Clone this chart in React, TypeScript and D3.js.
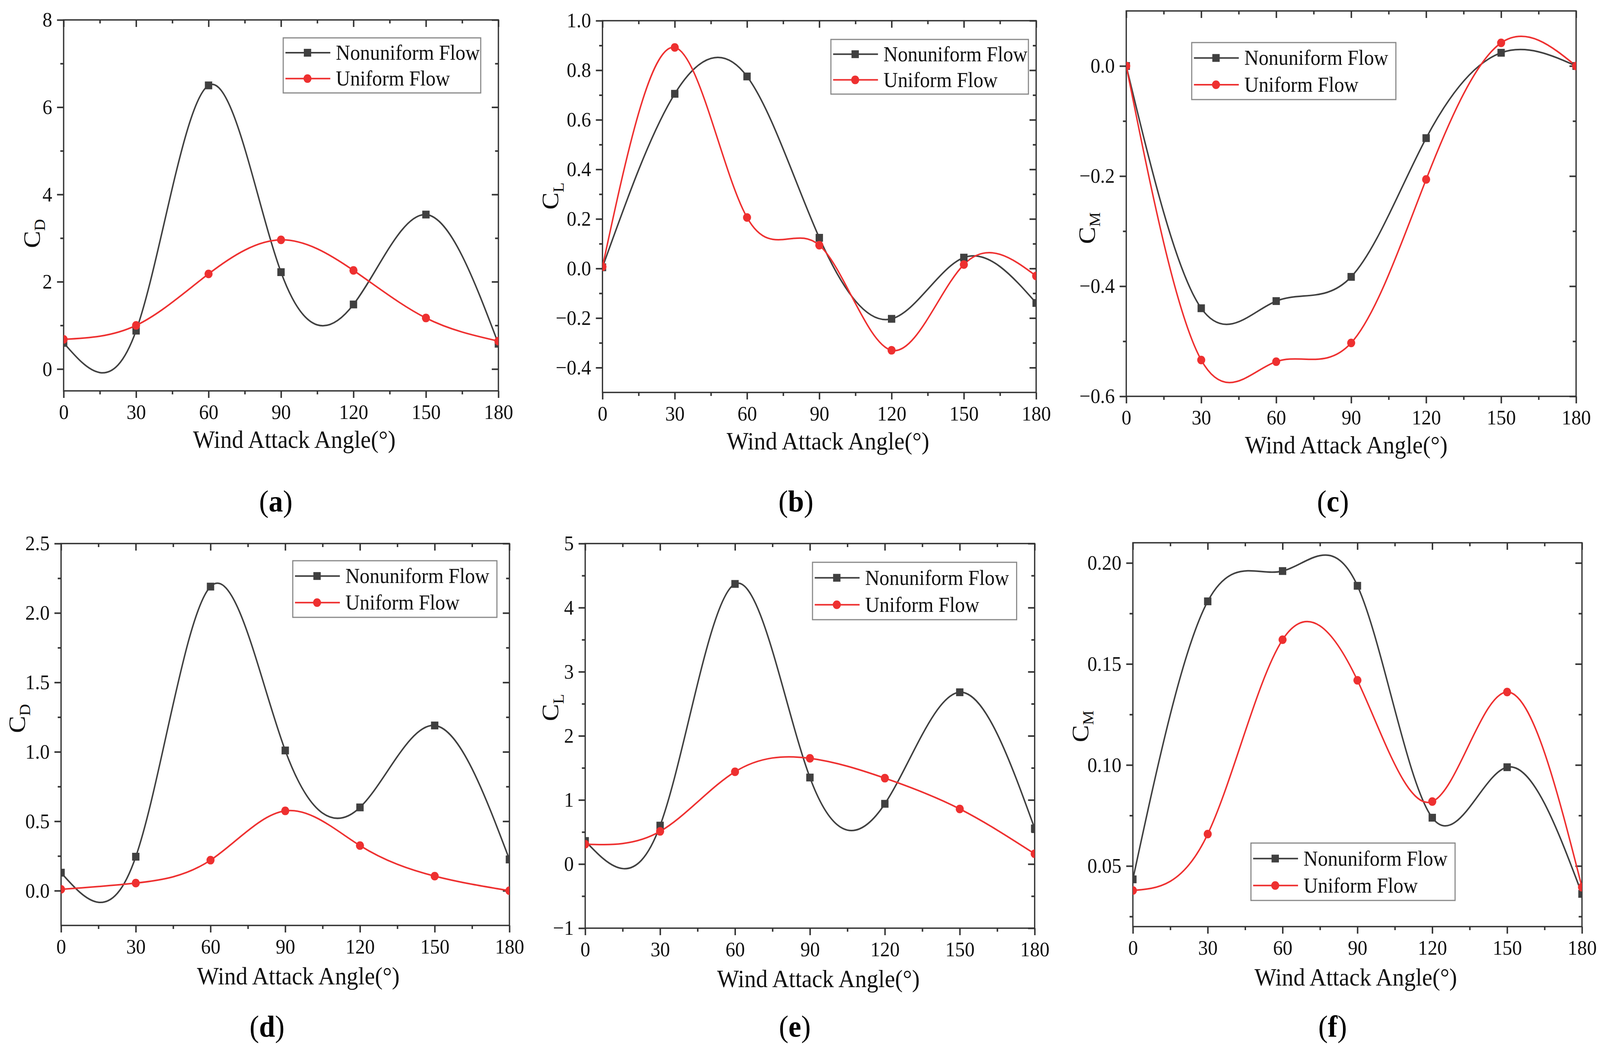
import { useEffect, useRef } from 'react';
import * as d3 from 'd3';

// Wind attack angles (x) shared by every panel
const angles = [0, 30, 60, 90, 120, 150, 180];
const angleTicks = [0, 30, 60, 90, 120, 150, 180];
const angleMinorTicks = [15, 45, 75, 105, 135, 165];

// (a) C_D
const aNonuniform = [0.6, 0.88, 6.5, 2.22, 1.48, 3.54, 0.58];
const aUniform = [0.68, 1.0, 2.18, 2.96, 2.26, 1.17, 0.64];
const aTicks = [0, 2, 4, 6, 8];
const aMinor = [1, 3, 5, 7];

// (b) C_L
const bNonuniform = [0.005, 0.705, 0.775, 0.124, -0.203, 0.044, -0.139];
const bUniform = [0.007, 0.892, 0.206, 0.094, -0.33, 0.016, -0.03];
const bTicks = [-0.4, -0.2, 0, 0.2, 0.4, 0.6, 0.8, 1.0];
const bMinor = [-0.3, -0.1, 0.1, 0.3, 0.5, 0.7, 0.9];

// (c) C_M
const cNonuniform = [0.0, -0.44, -0.427, -0.383, -0.131, 0.024, 0.0];
const cUniform = [0.0, -0.534, -0.537, -0.503, -0.206, 0.042, 0.0];
const cTicks = [-0.6, -0.4, -0.2, 0];
const cMinor = [-0.5, -0.3, -0.1];

// (d) C_D
const dNonuniform = [0.13, 0.245, 2.19, 1.01, 0.6, 1.19, 0.225];
const dUniform = [0.01, 0.055, 0.22, 0.575, 0.325, 0.105, 0.0];
const dTicks = [0, 0.5, 1.0, 1.5, 2.0, 2.5];
const dMinor = [0.25, 0.75, 1.25, 1.75, 2.25];

// (e) C_L
const eNonuniform = [0.36, 0.6, 4.37, 1.35, 0.94, 2.68, 0.556];
const eUniform = [0.31, 0.51, 1.44, 1.65, 1.34, 0.86, 0.16];
const eTicks = [-1, 0, 1, 2, 3, 4, 5];
const eMinor = [-0.5, 0.5, 1.5, 2.5, 3.5, 4.5];

// (f) C_M
const fNonuniform = [0.0434, 0.181, 0.196, 0.1887, 0.0739, 0.0989, 0.0362];
const fUniform = [0.0379, 0.0658, 0.162, 0.1419, 0.0819, 0.1361, 0.0395];
const fTicks = [0.05, 0.1, 0.15, 0.2];
const fMinor = [0.025, 0.075, 0.125, 0.175];

const seriesNames = ['Nonuniform Flow', 'Uniform Flow'];

const NONUNIFORM = '#404040';
const UNIFORM = '#ee3030';
const AXIS = '#333333';
const FONT = "'Liberation Serif', 'Times New Roman', serif";

const panels = [
    { letter: 'a', sub: 'D', nonuniform: aNonuniform, uniform: aUniform, yDomain: [-0.5, 8], yTicks: aTicks, yMinor: aMinor, fmt: 'd',
      left: 173, right: 1355, top: 51, bottom: 1001, ylabDx: -65, ylabY: 598, titleX: 800, letterX: 750,
      legend: { x: 770, y: 97, w: 537, h: 141 } },
    { letter: 'b', sub: 'L', nonuniform: bNonuniform, uniform: bUniform, yDomain: [-0.5, 1.0], yTicks: bTicks, yMinor: bMinor, fmt: '.1f',
      left: 1638, right: 2817, top: 53, bottom: 1005, ylabDx: -120, ylabY: 502, titleX: 2251, letterX: 2164,
      legend: { x: 2259, y: 101, w: 537, h: 140 } },
    { letter: 'c', sub: 'M', nonuniform: cNonuniform, uniform: cUniform, yDomain: [-0.6, 0.1], yTicks: cTicks, yMinor: cMinor, fmt: '.1f',
      left: 3062, right: 4285, top: 28, bottom: 1015, ylabDx: -85, ylabY: 584, titleX: 3660, letterX: 3624,
      legend: { x: 3240, y: 109, w: 555, h: 146 } },
    { letter: 'd', sub: 'D', nonuniform: dNonuniform, uniform: dUniform, yDomain: [-0.25, 2.5], yTicks: dTicks, yMinor: dMinor, fmt: '.1f',
      left: 166, right: 1385, top: 1392, bottom: 2370, ylabDx: -98, ylabY: 1840, titleX: 811, letterX: 726,
      legend: { x: 796, y: 1436, w: 555, h: 145 } },
    { letter: 'e', sub: 'L', nonuniform: eNonuniform, uniform: eUniform, yDomain: [-1, 5], yTicks: eTicks, yMinor: eMinor, fmt: 'd',
      left: 1591, right: 2813, top: 1392, bottom: 2377, ylabDx: -73, ylabY: 1812, titleX: 2225, letterX: 2161,
      legend: { x: 2209, y: 1440, w: 555, h: 147 } },
    { letter: 'f', sub: 'M', nonuniform: fNonuniform, uniform: fUniform, yDomain: [0.02, 0.21], yTicks: fTicks, yMinor: fMinor, fmt: '.2f',
      left: 3080, right: 4301, top: 1390, bottom: 2373, ylabDx: -121, ylabY: 1860, titleX: 3686, letterX: 3623,
      legend: { x: 3401, y: 2159, w: 555, h: 147 } },
];

const WIDTH = 4350;
const HEIGHT = 2689;

export default function App() {
    const svgRef = useRef<SVGSVGElement>(null);

    useEffect(() => {
        document.body.style.margin = '0';
        document.body.style.overflow = 'hidden';
        const svg = d3.select(svgRef.current);
        svg.selectAll('*').remove();

        svg.append('rect').attr('width', WIDTH).attr('height', HEIGHT).attr('fill', 'white');
        const defs = svg.append('defs');

        panels.forEach(p => {
            const g = svg.append('g').attr('font-family', FONT);
            const bottomRow = p.top > 1000;

            const x = d3.scaleLinear().domain([0, 180]).range([p.left, p.right]);
            const y = d3.scaleLinear().domain(p.yDomain).range([p.bottom, p.top]);
            const fmt = d3.format(p.fmt);

            defs.append('clipPath').attr('id', `clip-${p.letter}`)
                .append('rect')
                .attr('x', p.left).attr('y', p.top)
                .attr('width', p.right - p.left).attr('height', p.bottom - p.top);

            // axes: bottom/left outward, top/right inward
            const styleAxis = (sel: any) => {
                sel.select('.domain').remove();
                sel.selectAll('line').attr('stroke', AXIS).attr('stroke-width', 4);
                sel.selectAll('text').attr('fill', '#111').attr('font-size', 53).attr('font-family', FONT);
            };
            g.append('g').attr('transform', `translate(0,${p.bottom})`)
                .call(d3.axisBottom(x).tickValues(angleTicks).tickSize(18).tickPadding(16).tickFormat(d => String(d)))
                .call(styleAxis);
            g.append('g').attr('transform', `translate(0,${p.bottom})`)
                .call(d3.axisBottom(x).tickValues(angleMinorTicks).tickSize(9).tickFormat(() => ''))
                .call(styleAxis);
            g.append('g').attr('transform', `translate(0,${p.top})`)
                .call(d3.axisTop(x).tickValues(angleTicks).tickSize(-18).tickFormat(() => ''))
                .call(styleAxis);
            g.append('g').attr('transform', `translate(0,${p.top})`)
                .call(d3.axisTop(x).tickValues(angleMinorTicks).tickSize(-9).tickFormat(() => ''))
                .call(styleAxis);
            g.append('g').attr('transform', `translate(${p.left},0)`)
                .call(d3.axisLeft(y).tickValues(p.yTicks).tickSize(18).tickPadding(13).tickFormat(d => fmt(d as number)))
                .call(styleAxis);
            g.append('g').attr('transform', `translate(${p.left},0)`)
                .call(d3.axisLeft(y).tickValues(p.yMinor).tickSize(9).tickFormat(() => ''))
                .call(styleAxis);
            g.append('g').attr('transform', `translate(${p.right},0)`)
                .call(d3.axisRight(y).tickValues(p.yTicks).tickSize(-18).tickFormat(() => ''))
                .call(styleAxis);
            g.append('g').attr('transform', `translate(${p.right},0)`)
                .call(d3.axisRight(y).tickValues(p.yMinor).tickSize(-9).tickFormat(() => ''))
                .call(styleAxis);

            // frame
            g.append('rect')
                .attr('x', p.left).attr('y', p.top)
                .attr('width', p.right - p.left).attr('height', p.bottom - p.top)
                .attr('fill', 'none').attr('stroke', AXIS).attr('stroke-width', 3.5);

            // curves + markers (clipped to plot)
            const plot = g.append('g').attr('clip-path', `url(#clip-${p.letter})`);
            const line = d3.line<number>()
                .x((_, i) => x(angles[i]))
                .y(d => y(d))
                .curve(d3.curveNatural);

            plot.append('path').datum(p.nonuniform)
                .attr('fill', 'none').attr('stroke', NONUNIFORM).attr('stroke-width', 4).attr('d', line);
            plot.append('path').datum(p.uniform)
                .attr('fill', 'none').attr('stroke', UNIFORM).attr('stroke-width', 4).attr('d', line);

            plot.selectAll('.sq').data(p.nonuniform).enter().append('rect')
                .attr('x', (_, i) => x(angles[i]) - 10)
                .attr('y', d => y(d) - 10)
                .attr('width', 20).attr('height', 20)
                .attr('fill', NONUNIFORM);
            plot.selectAll('.dot').data(p.uniform).enter().append('circle')
                .attr('cx', (_, i) => x(angles[i]))
                .attr('cy', d => y(d))
                .attr('r', 11)
                .attr('fill', UNIFORM);

            // legend
            const lg = g.append('g').attr('transform', `translate(${p.legend.x},${p.legend.y})`);
            lg.append('rect').attr('width', p.legend.w).attr('height', p.legend.h)
                .attr('fill', 'white').attr('stroke', '#888').attr('stroke-width', 3);
            const rows = [p.legend.h * 0.27, p.legend.h * 0.74];
            seriesNames.forEach((name, i) => {
                const color = i === 0 ? NONUNIFORM : UNIFORM;
                const cy = rows[i];
                lg.append('line').attr('x1', 6).attr('x2', 128).attr('y1', cy).attr('y2', cy)
                    .attr('stroke', color).attr('stroke-width', 4);
                if (i === 0) {
                    lg.append('rect').attr('x', 56).attr('y', cy - 10).attr('width', 20).attr('height', 20).attr('fill', color);
                } else {
                    lg.append('circle').attr('cx', 66).attr('cy', cy).attr('r', 11).attr('fill', color);
                }
                lg.append('text').attr('x', 143).attr('y', cy + 18)
                    .attr('font-size', 54).attr('fill', '#111').text(name);
            });

            // y label C with subscript
            const yl = g.append('text')
                .attr('transform', `translate(${p.left + p.ylabDx},${p.ylabY}) rotate(-90)`)
                .attr('text-anchor', 'middle')
                .attr('fill', '#111');
            yl.append('tspan').attr('font-size', 66).text('C');
            yl.append('tspan').attr('font-size', 42).attr('dy', 14).text(p.sub);

            // x title
            g.append('text')
                .attr('x', p.titleX)
                .attr('y', p.bottom + (bottomRow ? 151 : 146))
                .attr('text-anchor', 'middle')
                .attr('font-size', 63)
                .attr('fill', '#111')
                .text('Wind Attack Angle(°)');

            // panel letter
            const pl = g.append('text')
                .attr('x', p.letterX)
                .attr('y', bottomRow ? 2655 : 1310)
                .attr('text-anchor', 'middle')
                .attr('font-size', 78)
                .attr('fill', '#000');
            pl.append('tspan').text('(');
            pl.append('tspan').attr('font-weight', 'bold').text(p.letter);
            pl.append('tspan').text(')');
        });
    }, []);

    return (
        <svg
            ref={svgRef}
            viewBox={`0 0 ${WIDTH} ${HEIGHT}`}
            preserveAspectRatio="none"
            style={{ display: 'block', width: '100vw', height: '100vh' }}
        ></svg>
    );
}
